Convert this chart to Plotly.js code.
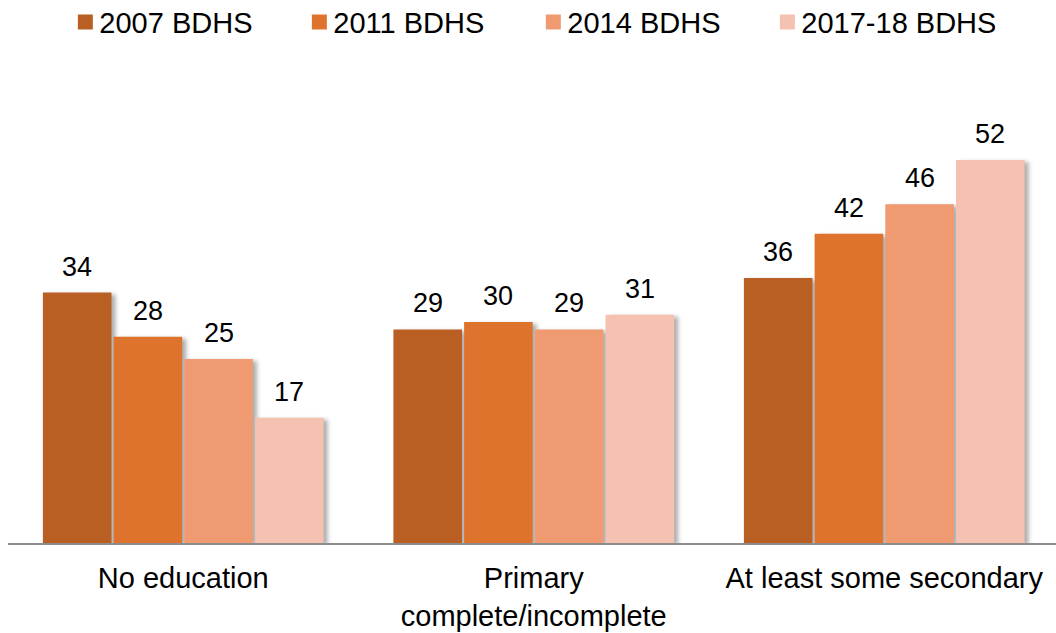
<!DOCTYPE html>
<html>
<head>
<meta charset="utf-8">
<script src="https://cdn.plot.ly/plotly-3.0.1.min.js"></script>
<style>
  html, body { margin: 0; padding: 0; background: #fff; }
  #chart { width: 1056px; height: 633px; }
  .bars .point path { filter: drop-shadow(4px 2px 2px rgba(0,0,0,0.32)); }
  .legendpoints path { transform: translate(26px, 0px) scale(1.25); }
</style>
</head>
<body>
<div id="chart"></div>
<script>
const categories = ["No education", "Primary<br>complete/incomplete", "At least some secondary"];
const seriesNames = ["2007 BDHS", "2011 BDHS", "2014 BDHS", "2017-18 BDHS"];
const v2007 = [34, 29, 36];
const v2011 = [28, 30, 42];
const v2014 = [25, 29, 46];
const v2017 = [17, 31, 52];
const seriesValues = [v2007, v2011, v2014, v2017];
const colors = ["#BA5F23", "#DE732D", "#F09A72", "#F5C1B0"];

const FONT = "Liberation Sans, Arial, sans-serif";
const bargap = 0.193;

const traces = seriesValues.map((vals, i) => ({
  type: "bar",
  name: seriesNames[i],
  x: categories,
  y: vals,
  marker: { color: colors[i], line: { width: 0 } },
  hoverinfo: "skip"
}));

const slot = (1 - bargap) / seriesValues.length;
const annotations = [];
seriesValues.forEach((vals, i) => {
  vals.forEach((v, j) => {
    annotations.push({
      x: j + (i - (seriesValues.length - 1) / 2) * slot,
      y: v,
      xref: "x", yref: "y",
      text: String(v),
      showarrow: false,
      yanchor: "bottom",
      yshift: 9,
      font: { family: FONT, size: 27, color: "#000" }
    });
  });
});

const layout = {
  width: 1056,
  height: 633,
  margin: { l: 8, r: 0, t: 80, b: 90, autoexpand: false },
  paper_bgcolor: "#fff",
  plot_bgcolor: "#fff",
  barmode: "group",
  bargap: bargap,
  bargroupgap: 0.03,
  showlegend: true,
  legend: {
    orientation: "h",
    x: 0.049, xanchor: "left",
    y: 1.18, yref: "paper", yanchor: "top",
    entrywidth: 189,
    font: { family: FONT, size: 29, color: "#000" },
    bgcolor: "rgba(0,0,0,0)"
  },
  xaxis: {
    type: "category",
    range: [-0.5, 2.49],
    showline: true,
    linecolor: "#8c8c8c",
    linewidth: 1.5,
    ticks: "",
    showgrid: false,
    zeroline: false,
    ticklabelstandoff: 9,
    tickfont: { family: FONT, size: 29, color: "#000" }
  },
  yaxis: {
    range: [0, 62.87],
    visible: false,
    showgrid: false,
    zeroline: false
  },
  annotations: annotations
};

Plotly.newPlot("chart", traces, layout, { staticPlot: true, displayModeBar: false });
</script>
</body>
</html>
